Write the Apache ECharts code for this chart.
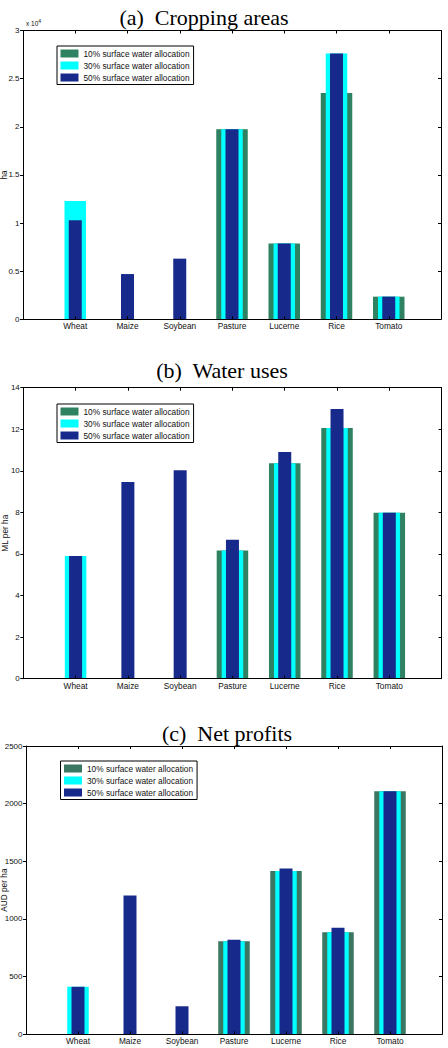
<!DOCTYPE html>
<html>
<head>
<meta charset="utf-8">
<script src="https://cdn.jsdelivr.net/npm/echarts@6/dist/echarts.min.js"></script>
<style>
html, body { margin: 0; padding: 0; background: #fff; }
#chart { width: 448px; height: 1048px; }
</style>
</head>
<body>
<div id="chart"></div>
<script>
const crops = ['Wheat', 'Maize', 'Soybean', 'Pasture', 'Lucerne', 'Rice', 'Tomato'];
const allocations = ['10% surface water allocation', '30% surface water allocation', '50% surface water allocation'];

// (a) cropping areas, ha
const area10 = [0, 0, 0, 19750, 7870, 23500, 2350];
const area30 = [12300, 0, 0, 19750, 7870, 27600, 2350];
const area50 = [10300, 4700, 6300, 19750, 7870, 27600, 2350];

// (b) water uses, ML per ha
const water10 = [0, 0, 0, 6.17, 10.36, 12.06, 7.98];
const water30 = [5.9, 0, 0, 6.17, 10.36, 12.06, 7.98];
const water50 = [5.9, 9.46, 10.03, 6.68, 10.91, 12.97, 7.98];

// (c) net profits, $ per ha
const profit10 = [0, 0, 0, 806, 1415, 884, 2108];
const profit30 = [412, 0, 0, 806, 1415, 884, 2108];
const profit50 = [412, 1204, 243, 820, 1438, 924, 2108];

const yTicksA = { max: 30000, step: 5000 };
const yTicksB = { max: 14, step: 2 };
const yTicksC = { max: 2500, step: 500 };

// padded category list so the axis runs 0..8 like the original
const cats = [''].concat(crops, ['']);
const barWidths = [31.5, 21.5, 13];
const sans = 'Liberation Sans';
const serif = 'Liberation Serif';

const panels = [
    {
        title: '(a)  Cropping areas', tx: 204, ty: 17,
        grid: { left: 23, top: 30.5, width: 418, height: 288.8 },
        ticks: yTicksA, fmt: v => String(v / 10000),
        yName: 'ha', nameGap: 15.5,
        legend: { left: 57, top: 46 },
        data: [area10, area30, area50],
        colors: ['#2e8262', '#00ffff', '#172a8c']
    },
    {
        title: '(b)  Water uses', tx: 222, ty: 370,
        grid: { left: 23.3, top: 387.7, width: 418.3, height: 291 },
        ticks: yTicksB, fmt: v => String(v),
        yName: 'ML per ha', nameGap: 14,
        legend: { left: 57, top: 404 },
        data: [water10, water30, water50],
        colors: ['#2e8262', '#00ffff', '#172a8c']
    },
    {
        title: '(c)  Net profits', tx: 227, ty: 733.5,
        grid: { left: 26, top: 746, width: 416, height: 288.3 },
        ticks: yTicksC, fmt: v => String(v),
        yName: 'AUD per ha', nameGap: 18,
        legend: { left: 60.5, top: 761 },
        data: [profit10, profit30, profit50],
        colors: ['#3b7662', '#00ffff', '#172a8c']
    }
];

const grid = [], xAxis = [], yAxis = [], series = [], legend = [], graphic = [];

panels.forEach((p, pi) => {
    grid.push(Object.assign({ containLabel: false, outerBoundsMode: 'none' }, p.grid));

    // bottom axis with labels, two hidden copies (one bar per axis so bars stay centred), top box axis
    for (let k = 0; k < 4; k++) {
        const ax = {
            type: 'category', gridIndex: pi, data: cats, boundaryGap: false,
            z: 5,
            axisLine: { show: true, onZero: false, lineStyle: { color: '#000', width: 1 } },
            axisTick: { show: true, inside: true, length: 3, interval: (i) => i > 0 && i < 8, lineStyle: { color: '#000' } },
            axisLabel: { show: false },
            splitLine: { show: false }
        };
        if (k === 0) {
            ax.position = 'bottom';
            ax.axisLabel = { show: true, interval: 0, margin: 3, fontSize: 8.3, fontFamily: sans, color: '#111' };
        } else if (k === 3) {
            ax.position = 'top';
        } else {
            ax.show = false;
        }
        xAxis.push(ax);
    }

    yAxis.push({
        type: 'value', gridIndex: pi, position: 'left',
        min: 0, max: p.ticks.max, interval: p.ticks.step,
        name: p.yName, nameLocation: 'middle', nameGap: p.nameGap, nameRotate: 90,
        nameMoveOverlap: false,
        nameTextStyle: { fontSize: 8.3, fontFamily: sans, color: '#111' },
        z: 5,
        axisLine: { show: true, lineStyle: { color: '#000', width: 1 } },
        axisTick: { show: true, inside: false, length: 3, lineStyle: { color: '#000' } },
        axisLabel: { margin: 3.5, fontSize: 8, fontFamily: sans, color: '#111', formatter: p.fmt },
        splitLine: { show: false }
    });
    yAxis.push({
        type: 'value', gridIndex: pi, position: 'right',
        min: 0, max: p.ticks.max, interval: p.ticks.step,
        z: 5,
        axisLine: { show: true, lineStyle: { color: '#000', width: 1 } },
        axisTick: { show: true, inside: true, length: 3, lineStyle: { color: '#000' } },
        axisLabel: { show: false },
        splitLine: { show: false }
    });

    p.data.forEach((vals, si) => {
        series.push({
            type: 'bar',
            name: allocations[si],
            xAxisIndex: pi * 4 + si,
            yAxisIndex: pi * 2,
            barWidth: barWidths[si],
            itemStyle: { color: p.colors[si] },
            emphasis: { disabled: true },
            data: vals.map((v, i) => [crops[i], v])
        });
    });

    legend.push({
        left: p.legend.left, top: p.legend.top, orient: 'vertical',
        data: allocations.map((n, i) => ({ name: n, itemStyle: { color: p.colors[i] } })),
        icon: 'rect', itemWidth: 18, itemHeight: 8, itemGap: 2,
        padding: [2.5, 4, 2, 3.5],
        backgroundColor: '#fff', borderColor: '#000', borderWidth: 1, borderRadius: 0,
        textStyle: { fontSize: 8.3, lineHeight: 10, fontFamily: sans, color: '#111' },
        selectedMode: false
    });

    graphic.push({
        type: 'text', x: p.tx, y: p.ty, z: 10,
        style: { text: p.title, font: '22px "' + serif + '"', fill: '#000', align: 'center', verticalAlign: 'middle' }
    });
});

// exponent marker of panel (a)
graphic.push({
    type: 'text', x: 26, y: 23, z: 10,
    style: {
        text: 'x 10{sup|4}', fontFamily: sans, fontSize: 6.5, fill: '#111', verticalAlign: 'middle',
        rich: { sup: { fontSize: 5, fontFamily: sans, verticalAlign: 'top', padding: [0, 0, 5, 0] } }
    }
});

const myChart = echarts.init(document.getElementById('chart'), null, { renderer: 'svg' });
myChart.setOption({
    animation: false,
    backgroundColor: '#fff',
    grid, xAxis, yAxis, series, legend, graphic
});
</script>
</body>
</html>
